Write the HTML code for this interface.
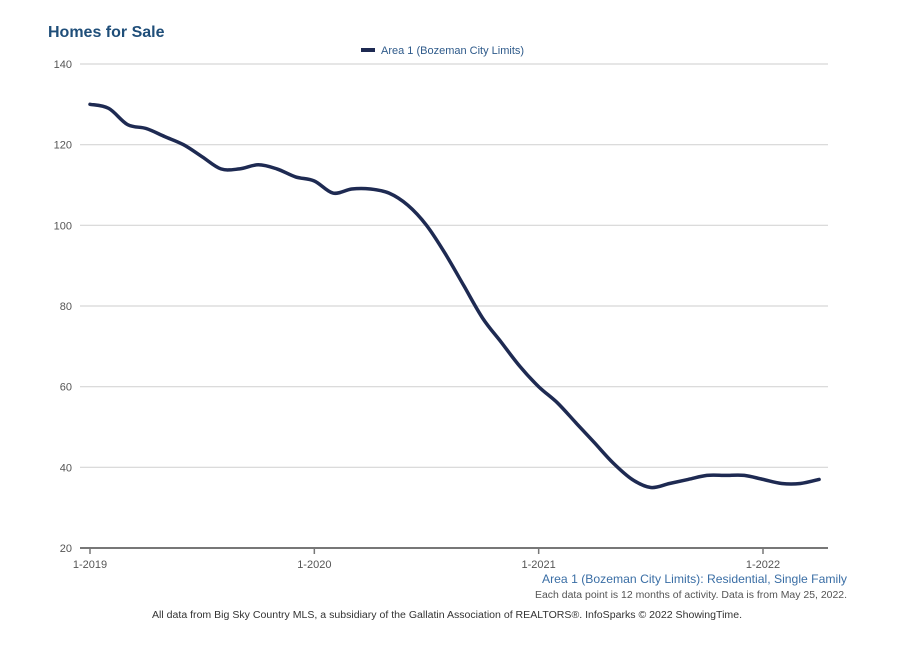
<!DOCTYPE html>
<html><head><meta charset="utf-8">
<style>
html,body{margin:0;padding:0;background:#fff;}
body{width:899px;height:649px;overflow:hidden;font-family:"Liberation Sans",sans-serif;}
svg{display:block;}
</style></head>
<body>
<svg id="chart" width="899" height="649" xmlns="http://www.w3.org/2000/svg">
  <text x="48" y="37" font-size="16" font-weight="bold" fill="#1f4e79" font-family="Liberation Sans, sans-serif">Homes for Sale</text>
  <g>
    <rect x="361" y="48" width="14" height="4" fill="#1e2a52"/>
    <text x="381" y="54" font-size="11" fill="#2e5a8a">Area 1 (Bozeman City Limits)</text>
  </g>
  <g id="grid"></g>
  <g id="yticks"></g>
  <g id="xticks"></g>
  <path id="line" fill="none" stroke="#1e2a52" stroke-width="3.5" stroke-linejoin="round" stroke-linecap="round"/>
  <text x="847" y="583" text-anchor="end" font-size="12" fill="#3a6ea5" textLength="305" lengthAdjust="spacingAndGlyphs">Area 1 (Bozeman City Limits): Residential, Single Family</text>
  <text x="847" y="598" text-anchor="end" font-size="10" fill="#555" textLength="312" lengthAdjust="spacingAndGlyphs">Each data point is 12 months of activity. Data is from May 25, 2022.</text>
  <text x="152" y="618" font-size="10" fill="#333" textLength="590" lengthAdjust="spacingAndGlyphs">All data from Big Sky Country MLS, a subsidiary of the Gallatin Association of REALTORS®. InfoSparks © 2022 ShowingTime.</text>
</svg>
<script>
const values = [130,129,125,124,122,120,117,114,114,115,114,112,111,108,109,109,108,105,100,93,85,77,71,65,60,56,51,46,41,37,35,36,37,38,38,38,37,36,36,37];
const yTicks = [20,40,60,80,100,120,140];
const xTickLabels = ["1-2019","1-2020","1-2021","1-2022"];
const xTickMonths = [0,12,24,36];

const NS="http://www.w3.org/2000/svg";
const x0=90, x36=763, yTop=64, yBot=548, yMin=20, yMax=140;
function xs(i){return x0+(x36-x0)*i/36;}
function ys(v){return yBot-(v-yMin)/(yMax-yMin)*(yBot-yTop);}
function mk(tag,attrs,parent){const e=document.createElementNS(NS,tag);for(const k in attrs)e.setAttribute(k,attrs[k]);parent.appendChild(e);return e;}

const grid=document.getElementById('grid'), yt=document.getElementById('yticks'), xt=document.getElementById('xticks');
yTicks.forEach(v=>{
  const isBase=v===yMin;
  const l=mk('line',{x1:80,x2:828,y1:ys(v),y2:ys(v),stroke:isBase?'#777':'#d6d6d6','stroke-width':isBase?2:1.2},grid);
  
  
  const t=mk('text',{x:72,y:ys(v)+4,'text-anchor':'end','font-size':11,fill:'#555'},yt);
  t.textContent=v;
  
  
});
xTickMonths.forEach((m,i)=>{
  const tk=mk('line',{x1:xs(m),x2:xs(m),y1:548,y2:554,stroke:'#777','stroke-width':1.5},xt);
  
  
  const t=mk('text',{x:xs(m),y:568,'text-anchor':'middle','font-size':11,fill:'#555'},xt);
  t.textContent=xTickLabels[i];
  
  
});
// smooth curve (Catmull-Rom to Bezier)
const pts=values.map((v,i)=>[xs(i),ys(v)]);
let d='M'+pts[0][0].toFixed(1)+','+pts[0][1].toFixed(1);
for(let i=0;i<pts.length-1;i++){
  const p0=pts[Math.max(0,i-1)],p1=pts[i],p2=pts[i+1],p3=pts[Math.min(pts.length-1,i+2)];
  const t=0.5/3;
  const c1=[p1[0]+(p2[0]-p0[0])*t,p1[1]+(p2[1]-p0[1])*t];
  const c2=[p2[0]-(p3[0]-p1[0])*t,p2[1]-(p3[1]-p1[1])*t];
  d+='C'+c1[0].toFixed(1)+','+c1[1].toFixed(1)+' '+c2[0].toFixed(1)+','+c2[1].toFixed(1)+' '+p2[0].toFixed(1)+','+p2[1].toFixed(1);
}
document.getElementById('line').setAttribute('d', d);
</script>
</body></html>
